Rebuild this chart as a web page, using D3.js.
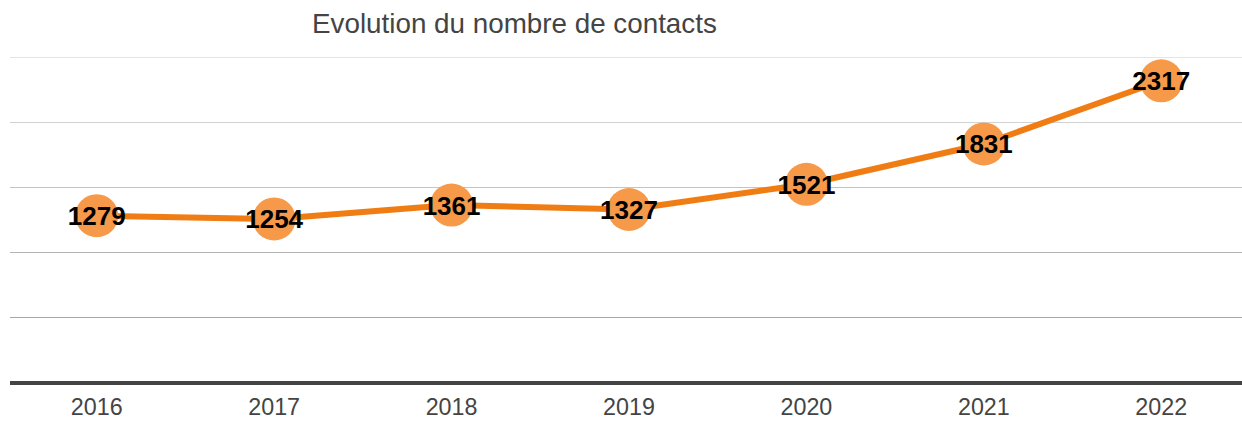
<!DOCTYPE html>
<html lang="fr">
<head>
<meta charset="UTF-8">
<title>Evolution du nombre de contacts</title>
<script src="https://d3js.org/d3.v7.min.js"></script>
<style>
    body { margin: 0; background: #fff; }
    svg { display: block; font-family: "Liberation Sans", Arial, sans-serif; }
</style>
</head>
<body>
<svg width="1242" height="421"></svg>
<script>
    // data
    const years = ["2016", "2017", "2018", "2019", "2020", "2021", "2022"];
    const contacts = [1279, 1254, 1361, 1327, 1521, 1831, 2317];
    const gridValues = [500, 1000, 1500, 2000, 2500];
    const gridColors = ["#a8a8a8", "#b4b4b4", "#c4c4c4", "#d2d2d2", "#e4e4e4"];

    const data = years.map((y, i) => ({ year: y, value: contacts[i] }));

    var svg = d3.select("svg");

    var xScale = d3.scaleBand().domain(years).range([8, 1250]),
        yScale = d3.scaleLinear().domain([0, 2500]).range([382, 57]);

    const cx = d => xScale(d) + xScale.bandwidth() / 2;

    // gridlines
    svg.append("g")
        .selectAll("line")
        .data(gridValues)
        .enter().append("line")
        .attr("x1", 10)
        .attr("x2", 1242)
        .attr("y1", d => yScale(d) + 0.5)
        .attr("y2", d => yScale(d) + 0.5)
        .attr("stroke", (d, i) => gridColors[i])
        .attr("stroke-width", 1.2);

    // baseline
    svg.append("line")
        .attr("x1", 10)
        .attr("x2", 1242)
        .attr("y1", yScale(0) + 1)
        .attr("y2", yScale(0) + 1)
        .attr("stroke", "#444")
        .attr("stroke-width", 4);

    // x axis labels
    svg.append("g")
        .selectAll("text")
        .data(years)
        .enter().append("text")
        .attr("x", d => cx(d))
        .attr("y", 415)
        .attr("text-anchor", "middle")
        .style("font-size", "23.3px")
        .style("fill", "#444")
        .text(d => d);

    // title
    svg.append("text")
        .attr("x", 312)
        .attr("y", 33)
        .style("font-size", "27.8px")
        .style("fill", "#444")
        .text("Evolution du nombre de contacts");

    // line
    const line = d3.line()
        .x(d => cx(d.year))
        .y(d => yScale(d.value));

    svg.append("path")
        .datum(data)
        .attr("d", line)
        .attr("fill", "none")
        .attr("stroke", "#f07d14")
        .attr("stroke-width", 6)
        .attr("stroke-linejoin", "round");

    // points
    svg.append("g")
        .selectAll("circle")
        .data(data)
        .enter().append("circle")
        .attr("cx", d => cx(d.year))
        .attr("cy", d => yScale(d.value))
        .attr("r", 21.5)
        .attr("fill", "#f69a4a");

    // value labels
    svg.append("g")
        .selectAll("text")
        .data(data)
        .enter().append("text")
        .attr("x", d => cx(d.year))
        .attr("y", d => yScale(d.value) + 9.5)
        .attr("text-anchor", "middle")
        .style("font-size", "26px")
        .style("font-weight", "bold")
        .style("fill", "#000")
        .text(d => d.value);
</script>
</body>
</html>
